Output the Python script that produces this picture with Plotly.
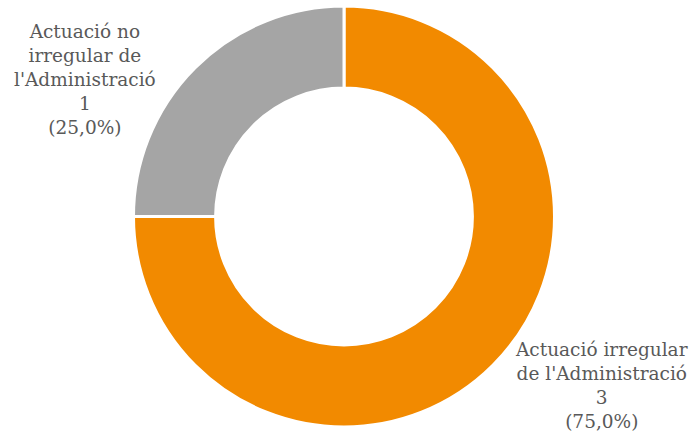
import plotly.graph_objects as go

labels = ["Actuació irregular de l'Administració", "Actuació no irregular de l'Administració"]
label_lines = [["Actuació irregular", "de l'Administració"], ["Actuació no", "irregular de", "l'Administració"]]
values = [3, 1]
colors = ["#F28A00", "#A5A5A5"]

total = sum(values)
texts = []
for lines, v in zip(label_lines, values):
    pct = f"{v / total * 100:.1f}".replace(".", ",")
    texts.append("<br>".join(lines + [str(v), f"({pct}%)"]))

W, H = 690, 437

def px(x):
    return x / W

def py(y):
    return 1 - y / H

cx, cy, r = 344, 216.5, 210.5
fig = go.Figure(go.Pie(
    labels=labels, values=values, hole=0.61, sort=False, direction="clockwise",
    rotation=0, marker=dict(colors=colors, line=dict(color="white", width=3)),
    textinfo="none", hoverinfo="label+value+percent",
    domain=dict(x=[px(cx - r), px(cx + r)], y=[py(cy + r), py(cy - r)]),
))

font = dict(family="DejaVu Serif", size=18.5, color="#595959")
# label positions (pixel coords) for each slice
pos = [(601, 385), (85, 80)]
for t, (lx, ly) in zip(texts, pos):
    fig.add_annotation(x=px(lx), y=py(ly), xref="paper", yref="paper",
                       text=t, showarrow=False, font=font, align="center",
                       xanchor="center", yanchor="middle")

fig.update_layout(width=W, height=H, margin=dict(l=0, r=0, t=0, b=0),
                  showlegend=False, paper_bgcolor="white", plot_bgcolor="white")
fig.write_html("out.html", config={"displayModeBar": False},
               post_script="document.body.style.margin='0';")
